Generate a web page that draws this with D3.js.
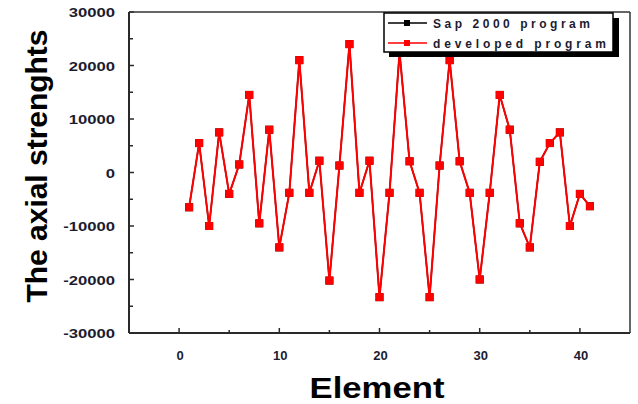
<!DOCTYPE html>
<html>
<head>
<meta charset="utf-8">
<script src="https://cdn.jsdelivr.net/npm/d3@7"></script>
<style>
  html, body { margin: 0; padding: 0; background: #fff; }
  svg { display: block; }
  text { font-family: "Liberation Sans", Arial, sans-serif; font-weight: bold; }
</style>
</head>
<body>
<svg id="chart" width="638" height="404"></svg>
<script>
// ---- data ----
const elements = [1,2,3,4,5,6,7,8,9,10,11,12,13,14,15,16,17,18,19,20,21,22,23,24,25,26,27,28,29,30,31,32,33,34,35,36,37,38,39,40,41];
const sapValues = [-6500,5500,-10000,7500,-4000,1500,14500,-9500,8000,-14000,-3800,21000,-3800,2200,-20200,1300,24000,-3800,2200,-23300,-3800,22500,2100,-3800,-23300,1300,21000,2100,-3800,-20000,-3800,14500,8000,-9500,-14000,2000,5500,7500,-10000,-4000,-6300];
const developedValues = [-6500,5500,-10000,7500,-4000,1500,14500,-9500,8000,-14000,-3800,21000,-3800,2200,-20200,1300,24000,-3800,2200,-23300,-3800,22500,2100,-3800,-23300,1300,21000,2100,-3800,-20000,-3800,14500,8000,-9500,-14000,2000,5500,7500,-10000,-4000,-6300];
const seriesNames = ["Sap 2000 program", "developed program"];
const xTicks = [0, 10, 20, 30, 40];
const xMinorTicks = [5, 15, 25, 35];
const yTicks = [-30000, -20000, -10000, 0, 10000, 20000, 30000];
const yMinorTicks = [-25000, -15000, -5000, 5000, 15000, 25000];
const xTitle = "Element";
const yTitle = "The axial strenghts";

// ---- layout ----
const L = 129, R = 630, T = 12, B = 333;
const svg = d3.select("#chart");
const x = d3.scaleLinear().domain([-5, 45]).range([L, R]);
const y = d3.scaleLinear().domain([-30000, 30000]).range([B, T]);
const axisColor = "#2a2a2a";
const labelColor = "#1c1c30";

function stretch(sel, f) {
  sel.each(function () {
    const len = this.getComputedTextLength();
    d3.select(this).attr("textLength", len * f).attr("lengthAdjust", "spacingAndGlyphs");
  });
}

// ticks (inward)
const g = svg.append("g");
g.selectAll(".xmaj").data(xTicks).join("line")
  .attr("x1", d => x(d)).attr("x2", d => x(d)).attr("y1", B).attr("y2", B - 5)
  .attr("stroke", axisColor).attr("stroke-width", 1.5);
g.selectAll(".xmin").data(xMinorTicks).join("line")
  .attr("x1", d => x(d)).attr("x2", d => x(d)).attr("y1", B).attr("y2", B - 3)
  .attr("stroke", axisColor).attr("stroke-width", 1.5);
g.selectAll(".ymaj").data(yTicks).join("line")
  .attr("x1", L).attr("x2", L + 5).attr("y1", d => y(d)).attr("y2", d => y(d))
  .attr("stroke", axisColor).attr("stroke-width", 1.5);
g.selectAll(".ymin").data(yMinorTicks).join("line")
  .attr("x1", L).attr("x2", L + 4).attr("y1", d => y(d)).attr("y2", d => y(d))
  .attr("stroke", axisColor).attr("stroke-width", 1.5);

// frame
svg.append("line").attr("x1", L).attr("x2", R).attr("y1", T).attr("y2", T).attr("stroke", "#333").attr("stroke-width", 1.5);
svg.append("line").attr("x1", R).attr("x2", R).attr("y1", T).attr("y2", B).attr("stroke", "#333").attr("stroke-width", 1.5);
svg.append("line").attr("x1", L).attr("x2", R).attr("y1", B).attr("y2", B).attr("stroke", axisColor).attr("stroke-width", 2);
svg.append("line").attr("x1", L).attr("x2", L).attr("y1", T).attr("y2", B).attr("stroke", axisColor).attr("stroke-width", 2);

// tick labels
const yl = svg.append("g").selectAll("text").data(yTicks).join("text")
  .attr("x", 115).attr("y", d => y(d) + 5)
  .attr("text-anchor", "end").attr("font-size", 13).attr("fill", labelColor)
  .text(d => d);
stretch(yl, 1.28);
svg.append("g").selectAll("text").data(xTicks).join("text")
  .attr("x", d => x(d) + 1).attr("y", 360)
  .attr("text-anchor", "middle").attr("font-size", 13).attr("fill", labelColor)
  .text(d => d);

// titles
const xt = svg.append("text").attr("x", 377).attr("y", 398).attr("text-anchor", "middle")
  .attr("font-size", 30).attr("fill", "#000").text(xTitle);
xt.attr("textLength", 135).attr("lengthAdjust", "spacingAndGlyphs");
const yt = svg.append("text").attr("transform", "translate(47,166) rotate(-90)").attr("text-anchor", "middle")
  .attr("font-size", 30).attr("fill", "#000").text(yTitle);
yt.attr("textLength", 273).attr("lengthAdjust", "spacingAndGlyphs");

// series
const pts1 = elements.map((e, i) => [e, sapValues[i]]);
const pts2 = elements.map((e, i) => [e, developedValues[i]]);
const line = d3.line().x(d => x(d[0])).y(d => y(d[1]));
svg.append("path").datum(pts1).attr("d", line).attr("fill", "none").attr("stroke", "#000").attr("stroke-width", 1.5);
svg.append("g").selectAll("rect").data(pts1).join("rect")
  .attr("x", d => x(d[0]) - 4).attr("y", d => y(d[1]) - 4).attr("width", 8).attr("height", 8).attr("fill", "#000");
svg.append("path").datum(pts2).attr("d", line).attr("fill", "none").attr("stroke", "#ff0000").attr("stroke-width", 2);
svg.append("g").selectAll("rect").data(pts2).join("rect")
  .attr("x", d => x(d[0]) - 4).attr("y", d => y(d[1]) - 4).attr("width", 8).attr("height", 8).attr("fill", "#ff0000");

// legend
const lg = svg.append("g");
lg.append("rect").attr("x", 389).attr("y", 18).attr("width", 230).attr("height", 39).attr("fill", "#000");
lg.append("rect").attr("x", 384).attr("y", 13).attr("width", 229).attr("height", 39).attr("fill", "#fff")
  .attr("stroke", "#000").attr("stroke-width", 1.5);
const legColors = ["#000", "#ff0000"];
const legY = [23, 43];
const legLen = [157, 173];
seriesNames.forEach((name, i) => {
  lg.append("line").attr("x1", 388).attr("x2", 427).attr("y1", legY[i]).attr("y2", legY[i])
    .attr("stroke", legColors[i]).attr("stroke-width", 1.5);
  lg.append("rect").attr("x", 404).attr("y", legY[i] - 3).attr("width", 6).attr("height", 6).attr("fill", legColors[i]);
  lg.append("text").attr("x", 433).attr("y", legY[i] + 4.5).attr("font-size", 12).attr("fill", labelColor)
    .attr("textLength", legLen[i]).attr("lengthAdjust", "spacing").text(name);
});
</script>
</body>
</html>
